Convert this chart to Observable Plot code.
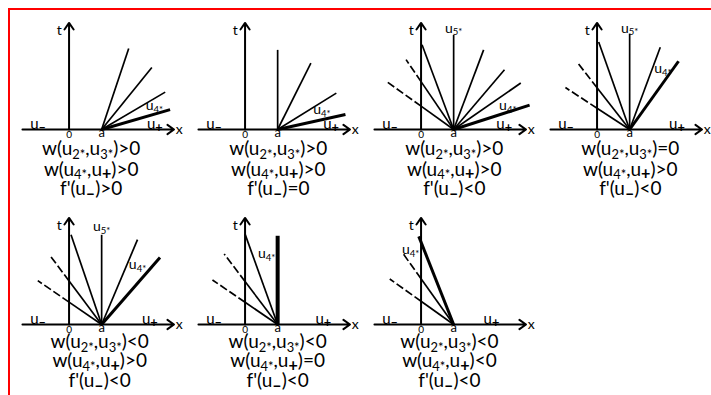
<!DOCTYPE html>
<html><head><meta charset="utf-8">
<script src="https://cdn.jsdelivr.net/npm/d3@7"></script>
<script src="https://cdn.jsdelivr.net/npm/@observablehq/plot@0.6"></script>
<style>
html,body{margin:0;padding:0;background:#fff;overflow:hidden;}
#wrap{position:relative;width:711px;height:395px;overflow:hidden;}
#frame{position:absolute;left:8px;top:8px;width:720px;height:400px;border-top:2px solid #ff0000;border-left:2px solid #ff0000;pointer-events:none;z-index:2;}
</style></head><body>
<div id="wrap"><div id="chart"></div><div id="frame"></div></div>
<script>
// ---- data (7 panels, reading order) ----
const panelIds = [0, 1, 2, 3, 4, 5, 6];
const wSign23 = [">0", ">0", ">0", "=0", "<0", "<0", "<0"];
const wSign4p = [">0", ">0", ">0", ">0", ">0", "=0", "<0"];
const fSign   = [">0", "=0", "<0", "<0", "<0", "<0", "<0"];

// rays from the point a: [panel, dx (relative to a), t, kind]
const rays = [
  [0, 0.83, 2.49, "thin"], [0, 1.54, 1.91, "thin"], [0, 1.95, 1.15, "thin"], [0, 2.10, 0.61, "thick"],
  [1, 0.00, 2.45, "thin"], [1, 1.02, 2.04, "thin"], [1, 1.80, 1.12, "thin"], [1, 2.08, 0.46, "thick"],
  [2, -2.02, 1.45, "dashed"], [2, -1.46, 2.15, "dashed"], [2, -0.97, 2.61, "thin"], [2, 0.00, 2.91, "thin"],
  [2, 0.92, 2.45, "thin"], [2, 1.56, 1.84, "thin"], [2, 2.06, 1.43, "thin"], [2, 2.33, 0.75, "thick"],
  [3, -1.97, 1.29, "dashed"], [3, -1.61, 2.07, "dashed"], [3, -0.95, 2.69, "thin"], [3, 0.00, 2.95, "thin"],
  [3, 0.94, 2.53, "thin"], [3, 1.50, 2.10, "thick"],
  [4, -1.96, 1.35, "dashed"], [4, -1.59, 2.13, "dashed"], [4, -0.94, 2.76, "thin"], [4, 0.00, 2.76, "thin"],
  [4, 1.10, 2.61, "thin"], [4, 1.79, 2.06, "thick"],
  [5, -2.00, 1.37, "dashed"], [5, -1.64, 2.17, "dashed"], [5, -1.00, 2.78, "thin"], [5, 0.00, 2.73, "heavy"],
  [6, -1.96, 1.40, "dashed"], [6, -1.55, 2.18, "dashed"], [6, -1.07, 2.71, "thick"]
];
// label u4* (relative to a) per panel
const u4LabelDx = [1.62, 1.36, 1.66, 1.02, 1.10, -0.34, -1.32];
const u4LabelT  = [0.74, 0.60, 0.74, 1.87, 1.84, 2.17, 2.30];
// u5* label on the vertical ray
const u5Panels = [2, 3, 4];
const u5LabelT = [3.12, 3.12, 3.00];
// u+ label position relative to a
const uPlusDx = [1.63, 1.64, 1.55, 1.45, 1.48, 1.40, 1.16];

// ---- layout ----
const A = 1;               // x position of point a (t-axis at 0)
const X_MIN = -1.43, X_MAX = 3.22, T_MAX = 3.28;
const captionDx = [-0.32, 0.02, 0.02, 0.02, -0.06, 0, -0.13];
const capY = [[-0.61, -1.23, -1.84], [-0.53, -1.13, -1.74]];
const col = p => p % 4, row = p => Math.floor(p / 4);
const FONT = "Lato, 'Open Sans', 'DejaVu Sans', sans-serif";

const panels = panelIds.map(p => ({p, col: col(p), row: row(p)}));
const rayData = rays.map(([p, dx, t, kind]) => ({p, col: col(p), row: row(p), dx, t, kind}));
const solidRays = rayData.map(r => {
  if (r.kind !== "dashed") return {...r, x1: A, y1: 0, x2: A + r.dx, y2: r.t};
  const tc = -r.t * A / r.dx; // crossing with x = 0
  return {...r, x1: A, y1: 0, x2: 0, y2: tc};
});
const dashedRays = rayData.filter(r => r.kind === "dashed").map(r => ({...r, x1: 0, y1: -r.t * A / r.dx, x2: A + r.dx, y2: r.t}));
const widthOf = k => k === "thick" ? 3 : k === "heavy" ? 4 : 1.7;

const captions = panels.flatMap(d => [
  {...d, line: 0, text: `w(u_{2*},u_{3*})${wSign23[d.p]}`},
  {...d, line: 1, text: `w(u_{4*},u_{+})${wSign4p[d.p]}`},
  {...d, line: 2, text: `f'(u_{–})${fSign[d.p]}`}
]);
const u4Labels = panels.map(d => ({...d, x: A + u4LabelDx[d.p], y: u4LabelT[d.p], text: "u_{4*}"}));
const u5Labels = u5Panels.map((p, i) => ({p, col: col(p), row: row(p), x: A, y: u5LabelT[i], text: "u_{5*}"}));

const chart = Plot.plot({
  width: 711, height: 402,
  marginLeft: 4, marginRight: 1, marginTop: 11, marginBottom: 0,
  style: {fontFamily: FONT, color: "#000", background: "white"},
  x: {domain: [-1.95, 3.45], axis: null},
  y: {domain: [-2.4, 3.6], axis: null},
  fx: {axis: null, padding: 0, domain: [0, 1, 2, 3]},
  fy: {axis: null, padding: 0, domain: [0, 1]},
  marks: [
    Plot.arrow(panels, {fx: "col", fy: "row", x1: X_MIN, y1: 0, x2: X_MAX, y2: 0, stroke: "#000", strokeWidth: 2, headLength: 6, headAngle: 70}),
    Plot.arrow(panels, {fx: "col", fy: "row", x1: 0, y1: 0, x2: 0, y2: T_MAX, stroke: "#000", strokeWidth: 2, headLength: 6, headAngle: 70}),
    Plot.link(solidRays, {fx: "col", fy: "row", x1: "x1", y1: "y1", x2: "x2", y2: "y2", stroke: "#000", strokeWidth: d => widthOf(d.kind), strokeLinecap: "butt"}),
    Plot.link(dashedRays, {fx: "col", fy: "row", x1: "x1", y1: "y1", x2: "x2", y2: "y2", stroke: "#000", strokeWidth: 1.7, strokeDasharray: "8,3"}),
    Plot.text(panels, {fx: "col", fy: "row", x: -0.3, y: 3.05, text: () => "t", fontSize: 14}),
    Plot.text(panels, {fx: "col", fy: "row", x: X_MAX + 0.16, y: 0, text: () => "x", fontSize: 14}),
    Plot.text(panels, {fx: "col", fy: "row", x: 0, y: 0, text: () => "0", fontSize: 10, lineAnchor: "top", dy: 1}),
    Plot.text(panels, {fx: "col", fy: "row", x: A, y: 0, text: () => "a", fontSize: 13, lineAnchor: "top", dy: -2}),
    Plot.text(panels, {fx: "col", fy: "row", x: -0.95, y: 0, text: () => "u_{–}", fontSize: 15, lineAnchor: "bottom", dy: -1}),
    Plot.text(panels, {fx: "col", fy: "row", x: d => A + uPlusDx[d.p], y: 0, text: () => "u_{+}", fontSize: 15, lineAnchor: "bottom", dy: -1}),
    Plot.text(u4Labels, {fx: "col", fy: "row", x: "x", y: "y", text: "text", fontSize: 14}),
    Plot.text(u5Labels, {fx: "col", fy: "row", x: "x", y: "y", text: "text", fontSize: 14}),
    Plot.text(captions, {fx: "col", fy: "row", x: d => A + captionDx[d.p], y: d => capY[d.row][d.line], text: "text", fontSize: 19})
  ]
});

// render subscripts written as _{...} with real tspans
const NS = "http://www.w3.org/2000/svg";
chart.querySelectorAll("text").forEach(t => {
  const s = t.textContent;
  if (!s.includes("_{")) return;
  const g = t.closest("[font-size]");
  const fs = parseFloat(t.getAttribute("font-size") || (g && g.getAttribute("font-size")) || 12);
  const shift = +(fs * 0.2).toFixed(2);
  while (t.firstChild) t.removeChild(t.firstChild);
  const re = /_\{([^}]*)\}/g;
  let last = 0, m, down = false;
  const plain = str => {
    const sp = document.createElementNS(NS, "tspan");
    sp.textContent = str;
    if (down) { sp.setAttribute("dy", -shift); down = false; }
    t.appendChild(sp);
  };
  while ((m = re.exec(s))) {
    if (m.index > last) plain(s.slice(last, m.index));
    const sub = document.createElementNS(NS, "tspan");
    sub.textContent = m[1];
    const sign = /^[+–]$/.test(m[1]);
    sub.setAttribute("font-size", (fs * (sign ? 0.85 : 0.68)).toFixed(2));
    if (sign) sub.setAttribute("font-weight", "bold");
    sub.setAttribute("dy", down ? 0 : shift);
    down = true;
    t.appendChild(sub);
    last = re.lastIndex;
  }
  if (last < s.length) plain(s.slice(last));
});
document.getElementById("chart").appendChild(chart);
</script>
</body></html>
